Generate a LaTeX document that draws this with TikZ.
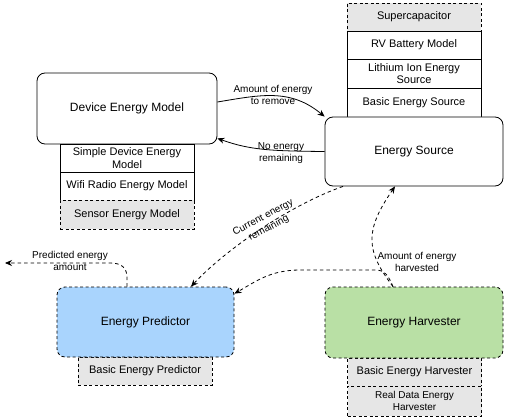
\documentclass[tikz,border=0pt]{standalone}
\usepackage{fontspec}
\setmainfont{Liberation Sans}
\setsansfont{Liberation Sans}
\usetikzlibrary{arrows.meta}
\definecolor{greyFill}{RGB}{230,230,230}
\definecolor{blueFill}{RGB}{169,212,253}
\definecolor{greenFill}{RGB}{185,224,165}

\begin{document}
\begin{tikzpicture}[x = 1pt, y = -1pt, font=\sffamily, line width = 0.8pt]
	\tikzstyle{mainStyle} = [draw, rounded corners = 8pt, fill = white, inner sep = 1pt, minimum width = 178pt, minimum height = 70pt, font = \fontsize{12}{14}\selectfont]
	\tikzstyle{modelStyle} = [draw, fill = white, align = center, inner sep = 1pt, minimum width = 134pt, minimum height = 28pt, font = \fontsize{11}{12.5}\selectfont]
	\tikzstyle{optionalStyle} = [modelStyle, fill = greyFill, dash pattern = on 3pt off 2.5pt]
	\tikzstyle{edgeStyle} = [-{Stealth[length = 7pt, width = 6pt]}]
	\tikzstyle{dashedEdgeStyle} = [edgeStyle, dash pattern = on 3.5pt off 3pt]
	\tikzstyle{labelStyle} = [align = center, inner sep = 0pt, font = \fontsize{10}{12}\selectfont]
	\useasboundingbox (0,0) rectangle (506,417);
	\node[modelStyle] (simpleDev) at (127,158) {Simple Device Energy\\Model};
	\node[modelStyle] (wifiRadio) at (127,186) {Wifi Radio Energy Model};
	\node[optionalStyle, minimum height = 29pt] (sensor) at (127,214.5) {Sensor Energy Model};
	\node[optionalStyle] (superCap) at (414,17) {Supercapacitor};
	\node[modelStyle] (rvBattery) at (414,45) {RV Battery Model};
	\node[modelStyle, minimum height = 29pt] (liIon) at (414,73.5) {Lithium Ion Energy\\Source};
	\node[modelStyle, minimum height = 29pt] (basicSrc) at (414,102.5) {Basic Energy Source};
	\node[optionalStyle] (basicPred) at (145,371) {Basic Energy Predictor};
	\node[optionalStyle] (basicHarv) at (414.5,372) {Basic Energy Harvester};
	\node[optionalStyle, minimum height = 30pt, font = \fontsize{10}{12}\selectfont] (realHarv) at (414.5,401) {Real Data Energy\\Harvester};
	\node[mainStyle, minimum width = 180pt, minimum height = 71pt] (dev) at (127,108.5) {Device Energy Model};
	\node[mainStyle, minimum height = 69pt] (src) at (414,151.5) {Energy Source};
	\node[mainStyle, fill = blueFill, minimum width = 177pt, dash pattern = on 3pt off 2.5pt] (pred) at (145.5,322) {Energy Predictor};
	\node[mainStyle, fill = greenFill, minimum height = 71pt, dash pattern = on 3pt off 2.5pt] (harv) at (414,322.5) {Energy Harvester};
	\coordinate (predOut) at (5,263);
	\draw[edgeStyle] ([yshift=6.5pt]dev.east) .. controls (260,95) and (290,88) .. (src.north west);
	\draw[edgeStyle] (src.west) .. controls (270,151) and (250,150) .. ([yshift=6pt]dev.south east);
	\draw[dashedEdgeStyle] ([xshift=-71pt]src.south) .. controls (290,205) and (225,250) .. ([xshift=45.5pt]pred.north);
	\draw[dashedEdgeStyle] ([xshift=-21pt]harv.north) .. controls (365,250) and (365,230) .. ([xshift=-19pt]src.south);
	\draw[dashedEdgeStyle] ([xshift=-21pt]harv.north) .. controls (388,275) and (385,270) .. (375,270) -- (300,270) .. controls (270,270) and (255,282) .. ([yshift=-7pt]pred.north east);
	\draw[dashedEdgeStyle] ([xshift=-18.5pt]pred.north) -- (127,278) .. controls (127,268) and (122,263) .. (110,263) -- (predOut);
	\node[labelStyle] (removeLbl) at (273,95) {Amount of energy\\to remove};
	\node[labelStyle] (noEnergyLbl) at (281,153) {No energy\\remaining};
	\node[labelStyle, rotate = 28] (currentLbl) at (266,223) {Current energy\\remaining};
	\node[labelStyle] (harvestedLbl) at (417,262) {Amount of energy\\harvested};
	\node[labelStyle] (predictedLbl) at (70,261) {Predicted energy\\amount};
\end{tikzpicture}
\end{document}
